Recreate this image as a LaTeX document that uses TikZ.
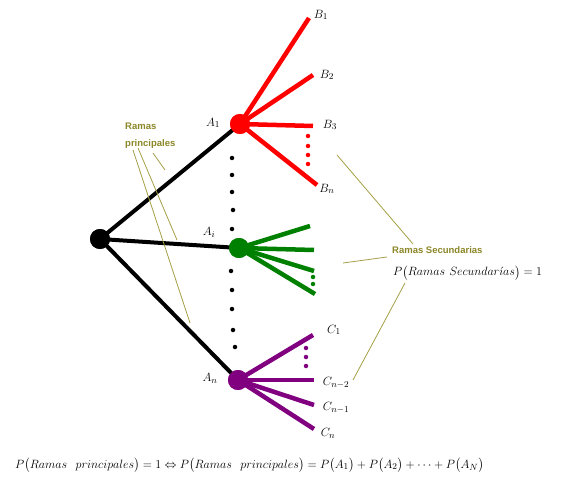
\documentclass[tikz,border=0pt]{standalone}
\usepackage{fontspec}
\newfontfamily\lblfont{Liberation Sans}
\usepackage{amsmath}
\begin{document}
\begin{tikzpicture}[x=1pt,y=-1pt,
  bigdot/.style={circle,fill=#1,inner sep=0pt,minimum size=20pt},
  smalldot/.style={circle,fill=#1,inner sep=0pt,minimum size=4.5pt},
  trunk/.style={line width=4pt,black},
  branch/.style={line width=4.5pt,#1},
  guide/.style={draw=olivec,line width=0.8pt},
  olivetext/.style={font=\lblfont\bfseries\fontsize{9.5}{17}\selectfont,text=olivet,inner sep=0pt,align=left},
  lbl/.style={font=\fontsize{13}{15}\selectfont,inner sep=0pt}]
\definecolor{olivec}{RGB}{165,160,70}
\definecolor{olivet}{RGB}{140,135,40}
\definecolor{purp}{RGB}{128,0,128}
\definecolor{grn}{RGB}{0,128,0}
\useasboundingbox (0,0) rectangle (566,487);
\fill[white] (0,0) rectangle (566,487);

% main nodes
\node[bigdot=black] (R) at (100,239) {};
\node[bigdot=red] (A1) at (240,124) {};
\node[bigdot=grn] (Ai) at (239,248) {};
\node[bigdot=purp] (An) at (238,380) {};

% trunk lines
\draw[trunk] (R.center) -- (A1.center);
\draw[trunk] (R.center) -- (Ai.center);
\draw[trunk] (R.center) -- (An.center);

% red branch ends
\coordinate (b1) at (309,18);
\coordinate (b2) at (313,75);
\coordinate (b3) at (313,126);
\coordinate (bn) at (317,185);
\foreach \e in {b1,b2,b3,bn} \draw[branch=red] (A1.center) -- (\e);

% green branch ends
\coordinate (g1) at (310,226);
\coordinate (g2) at (314,250);
\coordinate (g3) at (314,271);
\coordinate (g4) at (315,294);
\foreach \e in {g1,g2,g3,g4} \draw[branch=grn] (Ai.center) -- (\e);

% purple branch ends
\coordinate (c1) at (313,335);
\coordinate (c2) at (314,380);
\coordinate (c3) at (314,405);
\coordinate (c4) at (314,429);
\foreach \e in {c1,c2,c3,c4} \draw[branch=purp] (An.center) -- (\e);

% redraw big dots on top
\node[bigdot=black] at (R) {};
\node[bigdot=red] at (A1) {};
\node[bigdot=grn] at (Ai) {};
\node[bigdot=purp] at (An) {};

% vertical black dots
\foreach \p [count=\k] in {(232,158),(232,175),(232,192),(233,210),(232,229),(231,271),(232,290),(232,309),(233,330),(235,347)}
  \node[smalldot=black] (vd\k) at \p {};
% red dots
\foreach \y [count=\k] in {136,146,155,164} \node[smalldot=red] (rd\k) at (308,\y) {};
% green dots
\foreach \y [count=\k] in {277,284} \node[smalldot=grn] (gd\k) at (313,\y) {};
% purple dots
\foreach \y [count=\k] in {348,357,366} \node[smalldot=purp] (pd\k) at (306,\y) {};

% labels
\node[lbl] (lA1) at (213,123) {$A_1$};
\node[lbl] (lAi) at (209,232) {$A_i$};
\node[lbl] (lAn) at (210,378) {$A_n$};
\node[lbl] (lB1) at (321,15) {$B_1$};
\node[lbl] (lB2) at (327,75) {$B_2$};
\node[lbl] (lB3) at (330,125) {$B_3$};
\node[lbl] (lBn) at (327,189) {$B_n$};
\node[lbl] (lC1) at (334,330) {$C_1$};
\node[lbl] (lC2) at (336,383) {$C_{n-2}$};
\node[lbl] (lC3) at (336,408) {$C_{n-1}$};
\node[lbl] (lC4) at (328,433) {$C_n$};

% olive texts
\node[olivetext,anchor=north west] (rp) at (125,123) {Ramas\\principales};
\node[olivetext,anchor=west] (rs) at (392,250) {Ramas Secundarias};
\node[lbl,anchor=west] (prs) at (393,273) {$P\bigl(Ramas\ Secundar\acute{\imath}as\bigr)=1$};

% olive guide lines
\coordinate (rpa) at (153,153); \coordinate (rpa2) at (165,170);
\coordinate (rpb) at (138,148); \coordinate (rpb2) at (177,240);
\coordinate (rpc) at (133,150); \coordinate (rpc2) at (190,323);
\draw[guide] (rpa) -- (rpa2);
\draw[guide] (rpb) -- (rpb2);
\draw[guide] (rpc) -- (rpc2);
\coordinate (rsa) at (337,155); \coordinate (rsa2) at (413,244);
\coordinate (rsb) at (343,263); \coordinate (rsb2) at (387,257);
\coordinate (rsc) at (405,283); \coordinate (rsc2) at (353,380);
\draw[guide] (rsa) -- (rsa2);
\draw[guide] (rsb) -- (rsb2);
\draw[guide] (rsc) -- (rsc2);

% bottom formula
\node[lbl,anchor=west,font=\fontsize{13.2}{15}\selectfont] (formula) at (15,465) {$P\bigl(Ramas\ \ principales\bigr)=1\Leftrightarrow P\bigl(Ramas\ \ principales\bigr)=P\bigl(A_1\bigr)+P\bigl(A_2\bigr)+\cdots+P\bigl(A_N\bigr)$};
\end{tikzpicture}
\end{document}
